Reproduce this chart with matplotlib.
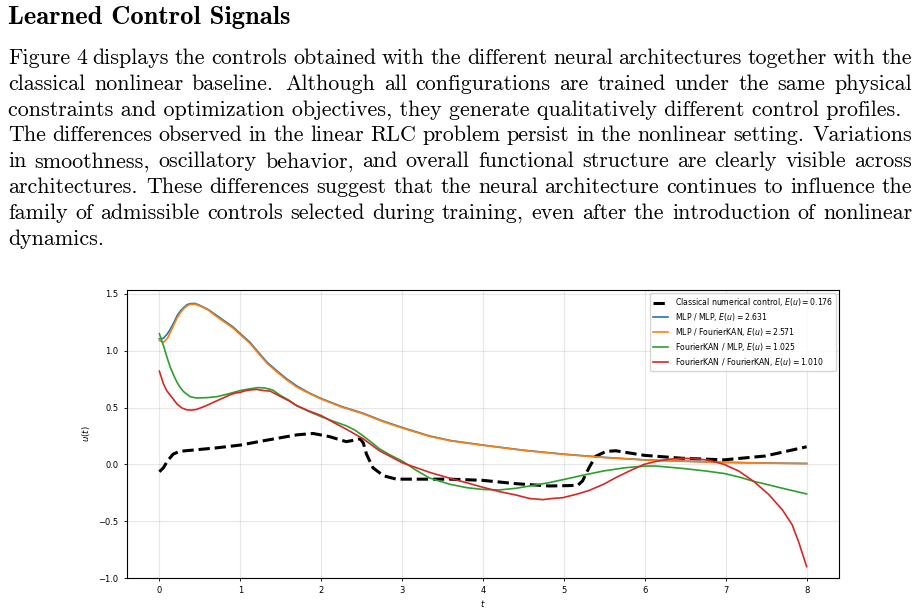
import matplotlib
matplotlib.use('Agg')
import matplotlib.pyplot as plt

# ---------------- data ----------------
t_classical = [0, 0.05, 0.1, 0.17, 0.25, 0.4, 0.7, 1.0, 1.28, 1.5, 1.7, 1.9, 2.1, 2.31, 2.42, 2.48, 2.52,
               2.56, 2.64, 2.77, 2.93, 3.34, 3.59, 3.99, 4.41, 4.82, 5.17, 5.23, 5.31, 5.39, 5.52, 5.64,
               5.99, 6.46, 6.98, 7.49, 8.0]
u_classical = [-0.065, -0.03, 0.03, 0.09, 0.115, 0.125, 0.145, 0.17, 0.207, 0.235, 0.26, 0.272, 0.245, 0.20,
               0.215, 0.225, 0.19, 0.09, -0.03, -0.10, -0.13, -0.13, -0.13, -0.14, -0.17, -0.19, -0.185,
               -0.146, -0.03, 0.07, 0.114, 0.12, 0.08, 0.054, 0.04, 0.074, 0.155]

t_mlp = [0, 0.05, 0.1, 0.135, 0.18, 0.22, 0.26, 0.30, 0.34, 0.38, 0.44, 0.5, 0.6, 0.71, 0.81, 0.91, 1.01,
         1.12, 1.22, 1.33, 1.45, 1.57, 1.7, 1.85, 2.0, 2.25, 2.52, 2.75, 3.0, 3.34, 3.6, 4.0, 4.5, 5.0,
         5.5, 6.0, 6.5, 7.0, 7.5, 8.0]
u_mlp_mlp = [1.105, 1.11, 1.15, 1.19, 1.25, 1.31, 1.35, 1.38, 1.405, 1.415, 1.417, 1.40, 1.365, 1.31, 1.26,
             1.21, 1.145, 1.075, 0.99, 0.90, 0.825, 0.755, 0.69, 0.63, 0.58, 0.51, 0.45, 0.385, 0.325,
             0.25, 0.21, 0.17, 0.125, 0.09, 0.062, 0.04, 0.028, 0.018, 0.012, 0.008]
u_mlp_fkan = [1.09, 1.075, 1.11, 1.16, 1.23, 1.29, 1.335, 1.37, 1.395, 1.408, 1.41, 1.395, 1.36, 1.30, 1.25,
              1.20, 1.135, 1.065, 0.98, 0.89, 0.815, 0.745, 0.68, 0.625, 0.575, 0.505, 0.445, 0.38, 0.32,
              0.247, 0.207, 0.168, 0.123, 0.088, 0.06, 0.039, 0.027, 0.017, 0.011, 0.007]

t_fkan_mlp = [0, 0.05, 0.1, 0.135, 0.18, 0.22, 0.26, 0.30, 0.38, 0.46, 0.6, 0.71, 0.85, 1.0, 1.12, 1.22,
              1.3, 1.4, 1.49, 1.6, 1.70, 1.85, 2.0, 2.15, 2.31, 2.42, 2.52, 2.62, 2.72, 2.86, 3.0, 3.17,
              3.34, 3.59, 3.8, 3.99, 4.2, 4.41, 4.62, 4.82, 5.03, 5.23, 5.49, 5.75, 5.99, 6.13, 6.46,
              6.75, 6.98, 7.17, 7.35, 7.53, 7.7, 7.85, 8.0]
u_fkan_mlp = [1.15, 1.046, 0.93, 0.855, 0.78, 0.72, 0.675, 0.64, 0.596, 0.584, 0.588, 0.596, 0.62, 0.65,
              0.665, 0.676, 0.673, 0.655, 0.61, 0.565, 0.516, 0.465, 0.42, 0.38, 0.34, 0.30, 0.25, 0.195,
              0.137, 0.08, 0.03, -0.05, -0.12, -0.175, -0.205, -0.22, -0.225, -0.21, -0.185, -0.16, -0.128,
              -0.096, -0.058, -0.03, -0.015, -0.014, -0.035, -0.058, -0.08, -0.112, -0.15, -0.18, -0.21,
              -0.235, -0.26]

t_fkan_fkan = [0, 0.05, 0.09, 0.155, 0.22, 0.28, 0.34, 0.40, 0.46, 0.545, 0.62, 0.71, 0.79, 0.875, 0.94,
               1.0, 1.06, 1.12, 1.2, 1.29, 1.37, 1.49, 1.6, 1.70, 1.85, 2.0, 2.15, 2.31, 2.52, 2.72, 3.0,
               3.34, 3.59, 3.79, 3.99, 4.205, 4.41, 4.575, 4.74, 4.86, 4.985, 5.15, 5.31, 5.49, 5.64,
               5.81, 5.99, 6.13, 6.30, 6.46, 6.62, 6.79, 6.98, 7.16, 7.35, 7.53, 7.70, 7.82, 7.90, 8.0]
u_fkan_fkan = [0.82, 0.71, 0.65, 0.59, 0.53, 0.496, 0.48, 0.478, 0.484, 0.507, 0.53, 0.56, 0.585, 0.613,
               0.628, 0.634, 0.648, 0.655, 0.66, 0.65, 0.645, 0.6, 0.56, 0.516, 0.47, 0.43, 0.37, 0.31,
               0.225, 0.12, 0.015, -0.07, -0.122, -0.16, -0.20, -0.24, -0.27, -0.30, -0.31, -0.30,
               -0.293, -0.264, -0.23, -0.175, -0.117, -0.058, 0.0, 0.025, 0.045, 0.054, 0.05, 0.037,
               0.0, -0.058, -0.152, -0.264, -0.40, -0.53, -0.68, -0.90]

labels = [r"Classical numerical control, $E(u) = 0.176$",
          r"MLP / MLP, $E(u) = 2.631$",
          r"MLP / FourierKAN, $E(u) = 2.571$",
          r"FourierKAN / MLP, $E(u) = 1.025$",
          r"FourierKAN / FourierKAN, $E(u) = 1.010$"]

x_ticks = [0, 1, 2, 3, 4, 5, 6, 7, 8]
y_ticks = [-1.0, -0.5, 0.0, 0.5, 1.0, 1.5]

heading = "Learned Control Signals"
paragraph = [
    "Figure 4 displays the controls obtained with the different neural architectures together with the",
    "classical nonlinear baseline.  Although all configurations are trained under the same physical",
    "constraints and optimization objectives, they generate qualitatively different control profiles.",
    "The differences observed in the linear RLC problem persist in the nonlinear setting. Variations",
    "in smoothness, oscillatory behavior, and overall functional structure are clearly visible across",
    "architectures. These differences suggest that the neural architecture continues to influence the",
    "family of admissible controls selected during training, even after the introduction of nonlinear",
    "dynamics.",
]
justified = [True, True, False, True, True, True, True, False]

# ---------------- figure ----------------
W, H = 918, 614
fig = plt.figure(figsize=(W / 100, H / 100), dpi=100)
renderer = fig.canvas.get_renderer()


def text_width(s, size, family):
    t = fig.text(0, 0, s, fontsize=size, family=family)
    w = t.get_window_extent(renderer).width
    t.remove()
    return w


LEFT, RIGHT = 8, 912
hs = 10 * 281 / text_width(heading, 10, 'cmb10')
bs = 10 * 894 / text_width(paragraph[2], 10, 'cmr10')

fig.text(LEFT / W, 1 - 24 / H, heading, fontsize=hs, family='cmb10', va='baseline', ha='left')

base0, dy = 64, 25.8
for i, line in enumerate(paragraph):
    yf = 1 - (base0 + i * dy) / H
    if justified[i]:
        words = line.split()
        widths = [text_width(w, bs, 'cmr10') for w in words]
        weights = [1.3 if w.endswith('.') else 1.0 for w in words[:-1]]
        unit = (RIGHT - LEFT - sum(widths)) / sum(weights)
        x = LEFT
        for j, w in enumerate(words):
            fig.text(x / W, yf, w, fontsize=bs, family='cmr10', va='baseline', ha='left')
            if j < len(weights):
                x += widths[j] + weights[j] * unit
    else:
        fig.text(LEFT / W, yf, line, fontsize=bs, family='cmr10', va='baseline', ha='left')

# ---------------- chart ----------------
ax = fig.add_axes([127 / W, 1 - 578 / H, (839 - 127) / W, (578 - 290) / H])
ax.plot(t_classical, u_classical, color='black', lw=2.2, ls='--', label=labels[0])
ax.plot(t_mlp, u_mlp_mlp, color='#1f77b4', lw=1.2, label=labels[1])
ax.plot(t_mlp, u_mlp_fkan, color='#ff7f0e', lw=1.2, label=labels[2])
ax.plot(t_fkan_mlp, u_fkan_mlp, color='#2ca02c', lw=1.2, label=labels[3])
ax.plot(t_fkan_fkan, u_fkan_fkan, color='#d62728', lw=1.2, label=labels[4])

ax.set_xlim(-0.4, 8.4)
ax.set_ylim(-1.0, 1.535)
ax.set_xticks(x_ticks)
ax.set_yticks(y_ticks)
ax.tick_params(labelsize=6, length=2.5, width=0.6)
ax.grid(True, alpha=0.3)
ax.set_xlabel('$t$', fontsize=6.2, labelpad=2)
ax.set_ylabel('$u(t)$', fontsize=6.2, labelpad=5)
for s in ax.spines.values():
    s.set_linewidth(0.8)
ax.legend(loc='upper right', fontsize=5.6, labelspacing=0.38, borderaxespad=0.4)

fig.savefig('out.png', dpi=100)
